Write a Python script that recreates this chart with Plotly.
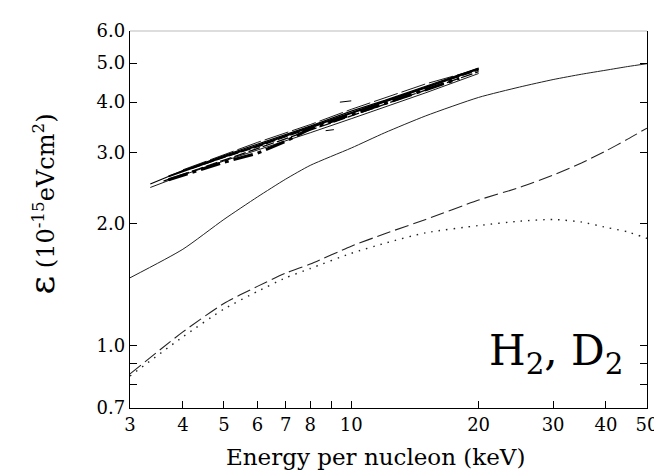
import plotly.graph_objects as go

# ---- data ----
energy_calc = [3, 4, 5, 6, 7, 8, 10, 12, 15, 20, 25, 30, 35, 40, 45, 50]
solid_calc = [1.47, 1.73, 2.05, 2.33, 2.58, 2.79, 3.08, 3.36, 3.70, 4.11, 4.36, 4.55, 4.69, 4.80, 4.90, 4.98]
dashed_calc = [0.85, 1.08, 1.27, 1.40, 1.51, 1.59, 1.76, 1.89, 2.05, 2.29, 2.46, 2.64, 2.83, 3.03, 3.24, 3.45]
dotted_calc = [0.84, 1.05, 1.23, 1.36, 1.47, 1.55, 1.69, 1.79, 1.90, 1.98, 2.03, 2.05, 2.02, 1.96, 1.91, 1.84]

# experimental bundle (several data sets, 3.3 - 20 keV)
exp_x1 = [3.35, 4, 5, 6, 7, 8, 10, 12, 15, 20]
exp_y1 = [2.46, 2.64, 2.86, 3.04, 3.21, 3.36, 3.64, 3.89, 4.22, 4.71]
exp_x2 = [3.35, 4, 5, 6, 7, 8, 10, 12, 15, 20]
exp_y2 = [2.51, 2.71, 2.95, 3.15, 3.33, 3.49, 3.80, 4.04, 4.38, 4.86]
exp_x3 = [3.7, 4, 5, 6, 7, 8, 10, 12, 15, 20]
exp_y3 = [2.62, 2.70, 2.93, 3.12, 3.31, 3.47, 3.76, 4.01, 4.35, 4.84]
exp_x4 = [3.6, 4, 5, 6, 7, 8, 10, 12, 15, 20]
exp_y4 = [2.55, 2.65, 2.87, 3.06, 3.24, 3.40, 3.69, 3.95, 4.28, 4.76]
exp_x5 = [3.7, 5, 6, 7, 8, 10, 12, 15, 18]
exp_y5 = [2.57, 2.84, 2.99, 3.20, 3.44, 3.72, 3.98, 4.30, 4.58]
exp_x6 = [4.2, 5, 6, 7, 8, 10, 12, 15, 20]
exp_y6 = [2.74, 2.92, 3.10, 3.28, 3.45, 3.76, 4.02, 4.36, 4.80]
exp_x7 = [4.0, 6, 8, 10, 15, 20]
exp_y7 = [2.72, 3.18, 3.52, 3.84, 4.44, 4.83]
stray_x1 = [9.4, 10.0]
stray_y1 = [4.00, 4.03]
stray_x2 = [8.7, 9.1]
stray_y2 = [3.40, 3.42]

x_ticks = [3, 4, 5, 6, 7, 8, 9, 10, 20, 30, 40, 50]
x_ticktext = ["3", "4", "5", "6", "7", "8", "", "10", "20", "30", "40", "50"]
y_ticks = [0.7, 0.8, 0.9, 1, 2, 3, 4, 5, 6]
y_ticktext = ["0.7", "", "", "1.0", "2.0", "3.0", "4.0", "5.0", "6.0"]

FONT = "DejaVu Serif"
fig = go.Figure()

# calculated curves
fig.add_trace(go.Scatter(x=energy_calc, y=solid_calc, mode="lines",
                         line=dict(color="#222", width=1, shape="spline", smoothing=0.6)))
fig.add_trace(go.Scatter(x=energy_calc, y=dashed_calc, mode="lines",
                         line=dict(color="#222", width=1.1, dash="14px,5px", shape="spline", smoothing=0.6)))
fig.add_trace(go.Scatter(x=energy_calc, y=dotted_calc, mode="lines",
                         line=dict(color="#222", width=1.4, dash="1.5px,6px", shape="spline", smoothing=0.6)))

# experimental bundle
bundle = [
    (exp_x1, exp_y1, "solid", 0.9),
    (exp_x2, exp_y2, "solid", 1.2),
    (exp_x3, exp_y3, "solid", 2.0),
    (exp_x4, exp_y4, "12px,3px", 1.3),
    (exp_x5, exp_y5, "20px,5px,4px,5px", 3.0),
    (exp_x6, exp_y6, "10px,3px", 1.2),
    (exp_x7, exp_y7, "25px,4px", 0.9),
]
for bx, by, dsh, w in bundle:
    fig.add_trace(go.Scatter(x=bx, y=by, mode="lines",
                             line=dict(color="black", width=w, dash=dsh)))
for sx, sy in [(stray_x1, stray_y1), (stray_x2, stray_y2)]:
    fig.add_trace(go.Scatter(x=sx, y=sy, mode="lines", line=dict(color="black", width=1)))

axis_common = dict(showgrid=False, zeroline=False, showline=True, linecolor="black",
                   linewidth=1.3, ticks="inside", ticklen=7,
                   tickcolor="black", tickwidth=1.2,
                   tickfont=dict(family=FONT, size=18, color="black"))

fig.update_xaxes(type="log", range=[0.4771, 1.699], tickmode="array", mirror=False,
                 tickvals=x_ticks, ticktext=x_ticktext, **axis_common)
fig.update_yaxes(type="log", range=[-0.1549, 0.7782], tickmode="array", mirror="allticks",
                 tickvals=y_ticks, ticktext=y_ticktext, **axis_common)

# faint top frame line
fig.add_shape(type="line", xref="paper", yref="paper", x0=0, x1=1, y0=1, y1=1,
              line=dict(color="#bbbbbb", width=1))

fig.add_annotation(text="H<sub>2</sub>, D<sub>2</sub>", xref="paper", yref="paper",
                   x=0.957, y=0.144, xanchor="right", yanchor="middle", showarrow=False,
                   font=dict(family=FONT, size=42, color="black"))
fig.add_annotation(text="Energy per nucleon (keV)", xref="paper", yref="paper",
                   x=0.475, y=-0.13, xanchor="center", yanchor="middle", showarrow=False,
                   font=dict(family=FONT, size=23, color="black"))
fig.add_annotation(text="<span style='font-size:36px'>ε</span> (10<sup>-15</sup>eVcm<sup>2</sup>)",
                   xref="paper", yref="paper", textangle=-90,
                   x=-0.172, y=0.54, xanchor="center", yanchor="middle", showarrow=False,
                   font=dict(family=FONT, size=24, color="black"))

fig.update_layout(width=662, height=470, showlegend=False,
                  paper_bgcolor="white", plot_bgcolor="white",
                  margin=dict(l=122, r=22, t=19, b=70))

fig.write_html("out.html")
